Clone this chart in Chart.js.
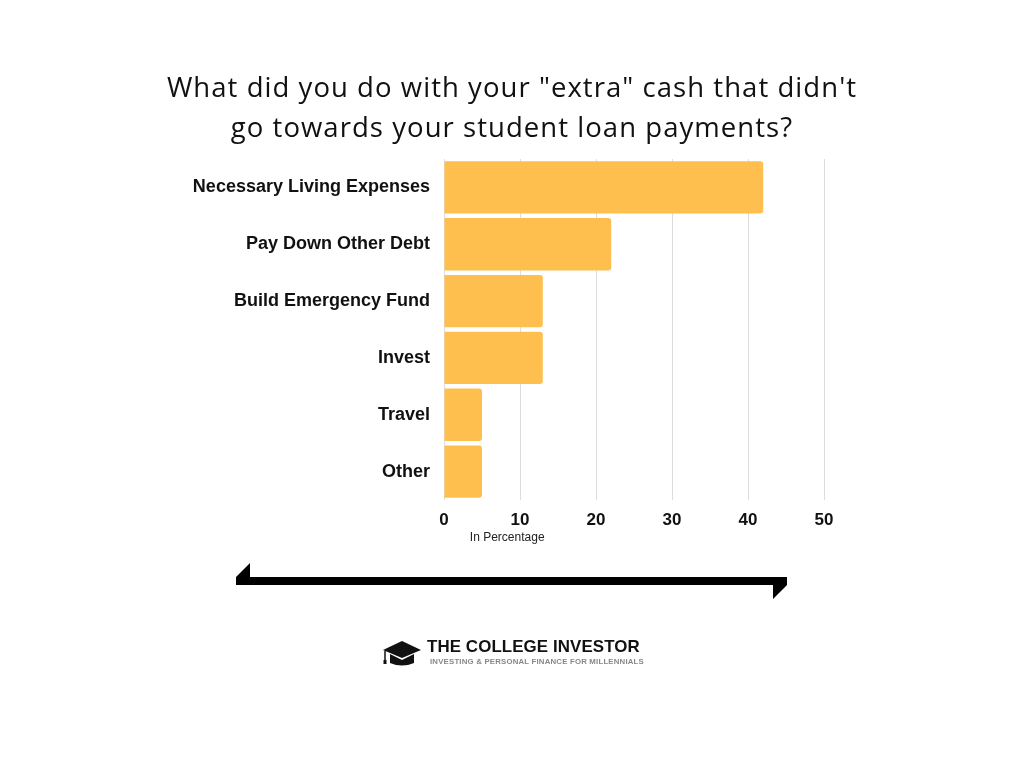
<!DOCTYPE html>
<html>
<head>
<meta charset="utf-8">
<script src="https://cdn.jsdelivr.net/npm/chart.js@4.4.0/dist/chart.umd.min.js"></script>
<style>
  html,body{margin:0;padding:0;background:#fff;}
  #wrap{position:relative;width:1024px;height:768px;overflow:hidden;}
  #chartBox{position:absolute;left:0;top:0;width:1024px;height:768px;}
  #title{position:absolute;left:0;top:67px;width:1024px;text-align:center;font-family:"Open Sans",sans-serif;font-size:27.5px;font-weight:500;line-height:40px;color:#111;letter-spacing:1.05px;}
  #logo{position:absolute;left:383px;top:637px;width:270px;height:34px;}
  #logoMain{position:absolute;left:44px;top:0px;font-family:"Liberation Sans",Arial,sans-serif;font-weight:bold;font-size:16.9px;color:#111;white-space:nowrap;letter-spacing:0.1px;}
  #logoSub{position:absolute;left:47px;top:20px;font-family:"Liberation Sans",Arial,sans-serif;font-weight:bold;font-size:7.8px;color:#888;white-space:nowrap;letter-spacing:0.2px;}
</style>
</head>
<body>
<div id="wrap">
  <div id="chartBox"><canvas id="c"></canvas></div>
  <div id="title">What did you do with your "extra" cash that didn't<br>go towards your student loan payments?</div>
  <svg style="position:absolute;left:0;top:0" width="1024" height="768">
    <polygon points="236,585 236,577 250,563 250,577 787,577 787,585 773,599 773,585" fill="#000"/>
    <polygon points="383,650 402,641 421,650 402,658" fill="#111"/>
    <path d="M390,654 L390,663 Q402,668 414,663 L414,654 L402,660 Z" fill="#111"/>
    <line x1="385" y1="651" x2="385" y2="662" stroke="#111" stroke-width="1.5"/>
    <rect x="383.5" y="660" width="3" height="4" fill="#111"/>
  </svg>
  <div id="logo">
    <div id="logoMain">THE COLLEGE INVESTOR</div>
    <div id="logoSub">INVESTING &amp; PERSONAL FINANCE FOR MILLENNIALS</div>
  </div>
</div>
<script>
const categories = ["Necessary Living Expenses","Pay Down Other Debt","Build Emergency Fund","Invest","Travel","Other"];
const values = [42, 22, 13, 13, 5, 5];
const xTicks = [0, 10, 20, 30, 40, 50];
const axisLabel = "In Percentage";

const axisLabelPlugin = {
  id: 'axisLabel',
  afterDraw(chart) {
    const ctx = chart.ctx;
    const xs = chart.scales.x;
    ctx.save();
    ctx.font = '12px "Liberation Sans", Arial, sans-serif';
    ctx.fillStyle = '#222';
    ctx.textAlign = 'left';
    ctx.textBaseline = 'middle';
    ctx.fillText(axisLabel, xs.getPixelForValue(3.4), chart.chartArea.bottom + 38);
    ctx.restore();
  }
};

new Chart(document.getElementById('c'), {
  type: 'bar',
  data: {
    labels: categories,
    datasets: [{
      data: values,
      backgroundColor: '#FEBF4F',
      borderRadius: 3,
      borderSkipped: 'start',
      categoryPercentage: 0.92,
      barPercentage: 1.0
    }]
  },
  options: {
    indexAxis: 'y',
    responsive: true,
    maintainAspectRatio: false,
    animation: false,
    layout: { padding: { top: 159, right: 200, left: 0, bottom: 0 } },
    plugins: { legend: { display: false }, tooltip: { enabled: false } },
    scales: {
      x: {
        min: 0, max: 50,
        afterBuildTicks(scale) { scale.ticks = xTicks.map(v => ({ value: v })); },
        grid: { color: '#dcdcdc', drawTicks: false, lineWidth: 1 },
        border: { display: false },
        ticks: { color: '#111', padding: 10, font: { family: '"Liberation Sans", Arial, sans-serif', size: 17, weight: 'bold' } },
        afterFit(scale) { scale.height = 268; }
      },
      y: {
        grid: { display: false, drawTicks: false },
        border: { display: false },
        ticks: { color: '#111', padding: 14, font: { family: '"Liberation Sans", Arial, sans-serif', size: 18, weight: 'bold' } },
        afterFit(scale) { scale.width = 444; }
      }
    }
  },
  plugins: [axisLabelPlugin]
});
</script>
</body>
</html>
